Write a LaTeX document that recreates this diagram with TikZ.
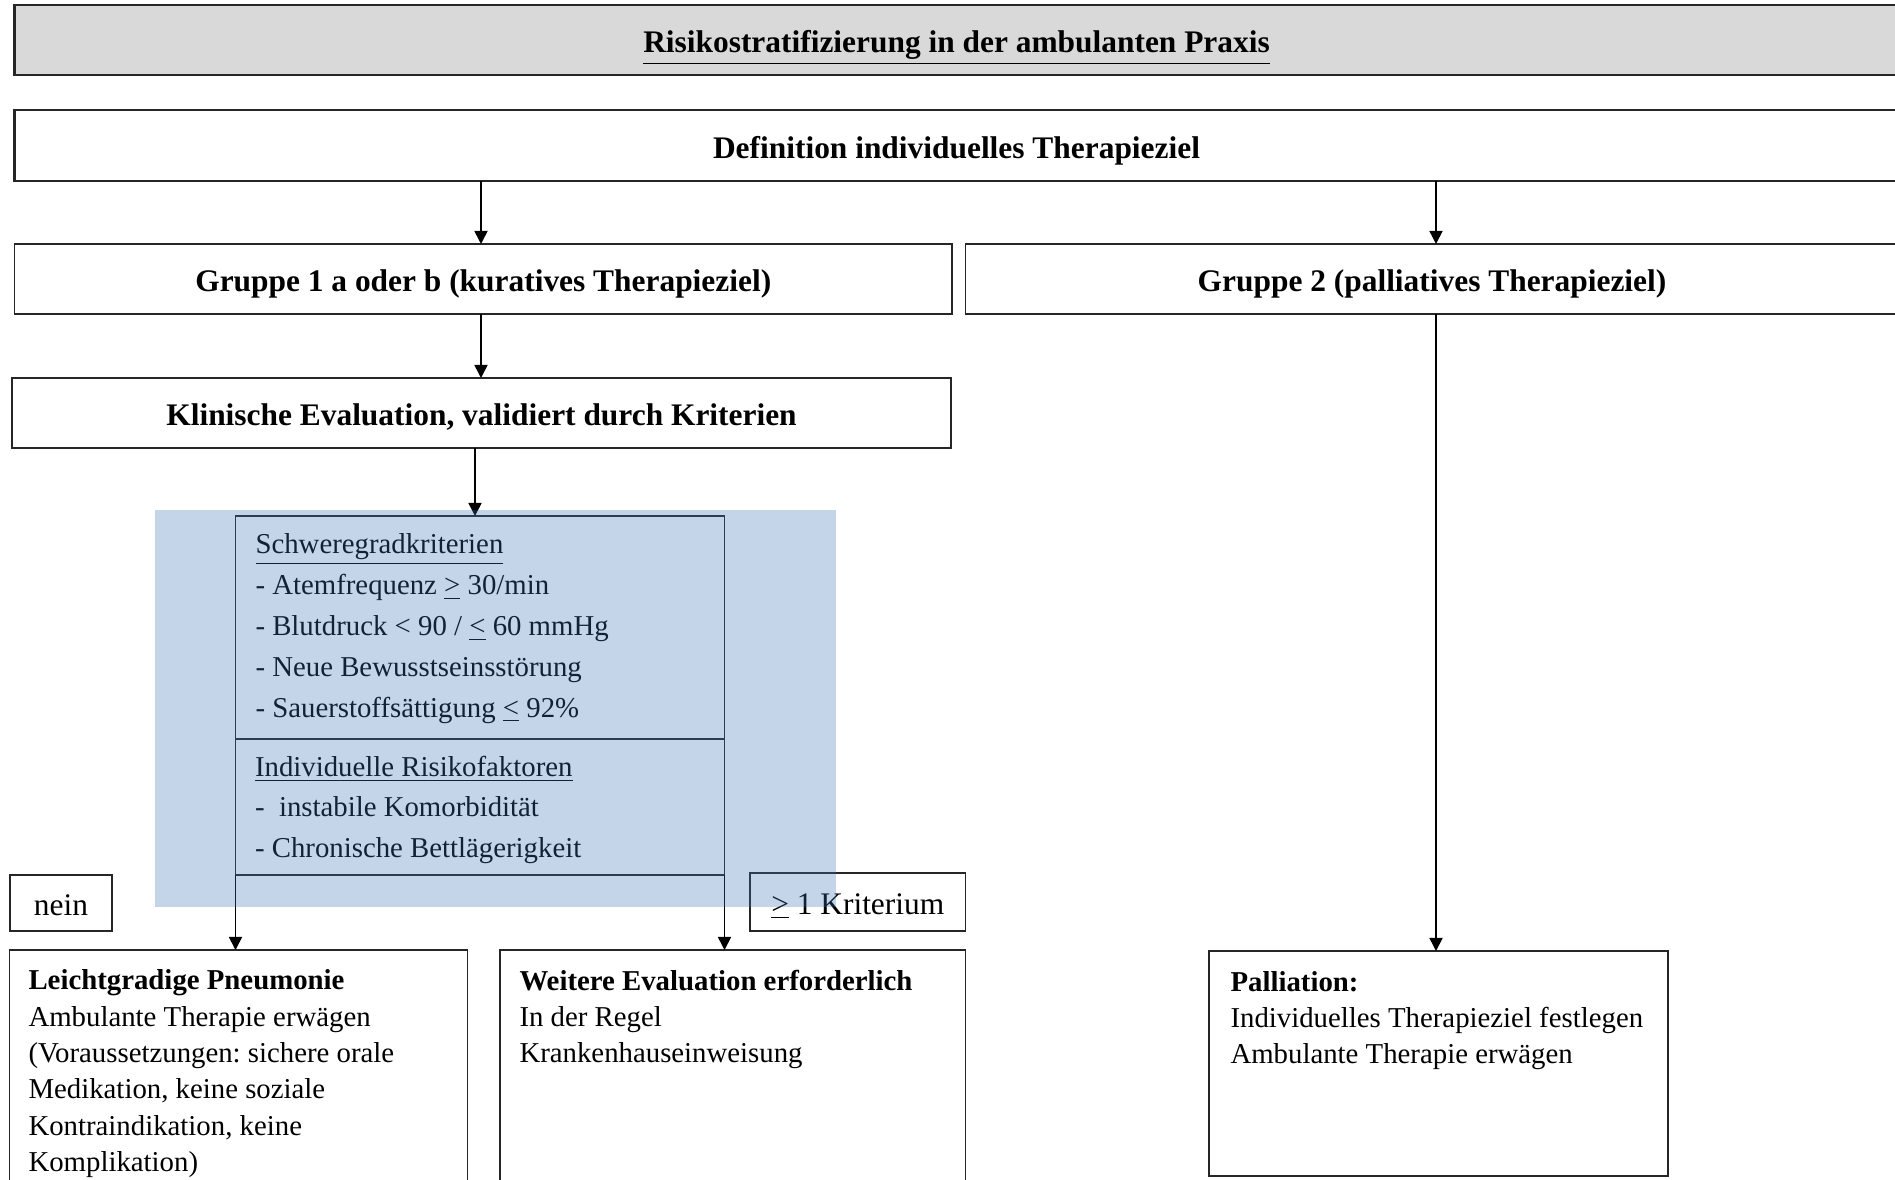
\documentclass[tikz,border=0pt]{standalone}
\usepackage{fontspec}
\setmainfont{Liberation Serif}
\frenchspacing
\usetikzlibrary{arrows.meta}
\newdimen\pxu \pxu=0.382pt
\definecolor{titlegray}{RGB}{217,217,217}
\definecolor{overlayblue}{RGB}{62,115,182}
\definecolor{linegray}{RGB}{38,38,38}
\begin{document}
\begin{tikzpicture}[x=0.382pt, y=-0.382pt,
  box/.style={draw=linegray, line width=0.65pt, inner sep=0pt, outer sep=0pt, anchor=north west},
  bigbox/.style={box, line width=0.95pt},
  headtext/.style={font=\fontsize{12}{14}\selectfont\bfseries, text height=10.5pt, text depth=0.9pt},
  labeltext/.style={font=\fontsize{12}{14}\selectfont, text height=10pt, text depth=0.8pt},
  bodytext/.style={font=\fontsize{11}{13.87}\selectfont, inner sep=0pt, anchor=north west, align=left},
  crittext/.style={font=\fontsize{11}{15.6}\selectfont, inner sep=0pt, anchor=north west, align=left},
  arr/.style={draw=black, line width=0.6pt, -{Triangle[length=5pt,width=5pt]}}]

\clip (0,0) rectangle (1895,1179);

% header rows
\node[bigbox, fill=titlegray, minimum width=1884\pxu, minimum height=70\pxu, headtext]
  (title) at (14.5,5) {\underline{Risikostratifizierung in der ambulanten Praxis}};
\node[bigbox, minimum width=1884\pxu, minimum height=71\pxu, headtext]
  (def) at (14.5,110) {Definition individuelles Therapieziel};

% the two groups
\node[box, minimum width=937.5\pxu, minimum height=70\pxu, headtext]
  (g1) at (14.5,244) {Gruppe 1 a oder b (kuratives Therapieziel)};
\node[box, minimum width=933\pxu, minimum height=70\pxu, headtext]
  (g2) at (965.5,244) {Gruppe 2 (palliatives Therapieziel)};
\node[box, minimum width=939\pxu, minimum height=70\pxu, headtext]
  (klin) at (12,378) {Klinische Evaluation, validiert durch Kriterien};

% criteria block
\node[box, minimum width=489\pxu, minimum height=223\pxu] (crita) at (235.5,516) {};
\node[box, minimum width=489\pxu, minimum height=136\pxu] (critb) at (235.5,739) {};
\node[crittext] (critatext) at ([xshift=19.5\pxu, yshift=-17.3\pxu]crita.north west)
  {\underline{Schweregradkriterien}\\
   - Atemfrequenz \underline{>} 30/min\\
   - Blutdruck < 90 / \underline{<} 60 mmHg\\
   - Neue Bewusstseinsstörung\\
   - Sauerstoffsättigung \underline{<} 92\%};
\node[crittext] (critbtext) at ([xshift=19\pxu, yshift=-16.3\pxu]critb.north west)
  {\underline{Individuelle Risikofaktoren}\\
   - \ instabile Komorbidität\\
   - Chronische Bettlägerigkeit};

% branch labels
\node[box, minimum width=102\pxu, minimum height=56\pxu, labeltext] (nein) at (10,875) {nein};
\node[box, minimum width=215.5\pxu, minimum height=58\pxu, labeltext] (krit) at (750,873)
  {\underline{>} 1 Kriterium};

% outcome boxes
\node[box, minimum width=458\pxu, minimum height=240\pxu] (leicht) at (9.5,950) {};
\node[bodytext] (leichttext) at ([xshift=18.5\pxu, yshift=-19.3\pxu]leicht.north west)
  {\textbf{Leichtgradige Pneumonie}\\
   Ambulante Therapie erwägen\\
   (Voraussetzungen: sichere orale\\
   Medikation, keine soziale\\
   Kontraindikation, keine\\
   Komplikation)};
\node[box, minimum width=465.5\pxu, minimum height=240\pxu] (weitere) at (500,950) {};
\node[bodytext] (weiteretext) at ([xshift=19\pxu, yshift=-19.3\pxu]weitere.north west)
  {\textbf{Weitere Evaluation erforderlich}\\
   In der Regel\\
   Krankenhauseinweisung};
\node[box, minimum width=459\pxu, minimum height=225\pxu] (pall) at (1209,951) {};
\node[bodytext] (palltext) at ([xshift=21\pxu, yshift=-19.5\pxu]pall.north west)
  {\textbf{Palliation:}\\
   Individuelles Therapieziel festlegen\\
   Ambulante Therapie erwägen};

% connectors
\coordinate (xg1) at (481,0);
\coordinate (xg2) at (1436,0);
\coordinate (xk) at (475,0);
\draw[arr] (def.south -| xg1) -- (g1.north -| xg1);
\draw[arr] (def.south -| xg2) -- (g2.north -| xg2);
\draw[arr] (g1.south -| xg1) -- (klin.north -| xg1);
\draw[arr] (klin.south -| xk) -- (crita.north -| xk);
\draw[arr] (critb.south west) -- (leicht.north -| critb.south west);
\draw[arr] (critb.south east) -- (weitere.north -| critb.south east);
\draw[arr] (g2.south -| xg2) -- (pall.north -| xg2);

% translucent highlight over the criteria
\fill[overlayblue, fill opacity=0.3] (155,510) rectangle (836,907);
\end{tikzpicture}
\end{document}
